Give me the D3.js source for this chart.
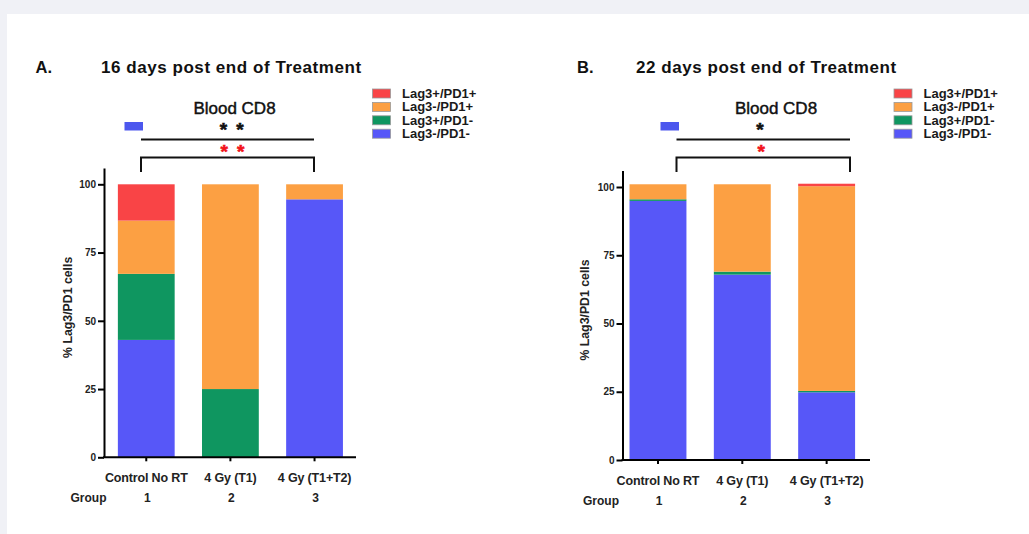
<!DOCTYPE html>
<html><head><meta charset="utf-8">
<script src="https://cdn.jsdelivr.net/npm/d3@7"></script>
<style>
html,body{margin:0;padding:0;background:#f0f1f6;}
svg{display:block;font-family:"Liberation Sans",Arial,sans-serif;}
</style></head>
<body>
<svg id="c" width="1029" height="534"></svg>
<script>
// ---- data ----
const categories = ["Control No RT", "4 Gy (T1)", "4 Gy (T1+T2)"];
const groupNumbers = ["1", "2", "3"];
const seriesNames = ["Lag3-/PD1-", "Lag3+/PD1-", "Lag3-/PD1+", "Lag3+/PD1+"]; // bottom -> top
const legendOrder = ["Lag3+/PD1+", "Lag3-/PD1+", "Lag3+/PD1-", "Lag3-/PD1-"];
const yTicks = [0, 25, 50, 75, 100];

// Panel A: 16 days
const lagNeg_PD1neg_A = [43.0, 0, 94.5];
const lagPos_PD1neg_A = [24.2, 25.0, 0];
const lagNeg_PD1pos_A = [19.5, 75.0, 5.5];
const lagPos_PD1pos_A = [13.3, 0, 0];
// Panel B: 22 days
const lagNeg_PD1neg_B = [94.9, 67.9, 24.8];
const lagPos_PD1neg_B = [0.6, 1.1, 0.5];
const lagNeg_PD1pos_B = [5.5, 32.0, 75.0];
const lagPos_PD1pos_B = [0, 0, 0.9];

const titleA = "16 days post end of Treatment";
const titleB = "22 days post end of Treatment";
const subTitle = "Blood CD8";
const yLabel = "%  Lag3/PD1 cells";
const starsA = 2;   // ** for panel A
const starsB = 1;   // *  for panel B

const colors = {
  "Lag3+/PD1+": "#f94446",
  "Lag3-/PD1+": "#fca043",
  "Lag3+/PD1-": "#0f9660",
  "Lag3-/PD1-": "#5757f8"
};

function rows(s0, s1, s2, s3) {
  return categories.map((c, i) => ({
    cat: c,
    [seriesNames[0]]: s0[i], [seriesNames[1]]: s1[i],
    [seriesNames[2]]: s2[i], [seriesNames[3]]: s3[i]
  }));
}

const svg = d3.select("#c");
svg.append("rect").attr("x", 7).attr("y", 14).attr("width", 1022).attr("height", 520).attr("fill", "#ffffff");

function stars(g, n, cx, baseline, size, color) {
  const offs = n === 1 ? [0] : [-8.2, 8.2];
  offs.forEach(o => {
    g.append("text").attr("x", cx + o).attr("y", baseline).attr("text-anchor", "middle")
      .attr("font-size", size).attr("font-weight", "bold").attr("fill", color)
      .attr("stroke", color).attr("stroke-width", 0.6).text("*");
  });
}

function panel(cfg) {
  const g = svg.append("g");
  const data = rows(...cfg.series);
  const x = d3.scaleBand().domain(categories)
    .range([cfg.x0, cfg.x1]).paddingInner(0.325).paddingOuter(cfg.po).align(cfg.align);
  const y = d3.scaleLinear().domain([0, 106]).range([cfg.y0, cfg.y0 - 2.73 * 106]);
  const stack = d3.stack().keys(seriesNames)(data);

  g.selectAll("g.s").data(stack).join("g").attr("fill", d => colors[d.key])
    .selectAll("rect").data(d => d).join("rect")
    .attr("x", d => x(d.data.cat)).attr("width", x.bandwidth())
    .attr("y", d => y(d[1])).attr("height", d => Math.max(0, y(d[0]) - y(d[1])));

  // y axis
  const ya = g.append("g").attr("transform", `translate(${cfg.x0},0)`)
    .call(d3.axisLeft(y).tickValues(yTicks).tickSize(6).tickPadding(2).tickSizeOuter(0));
  ya.select(".domain").attr("stroke-width", 2);
  ya.selectAll(".tick line").attr("stroke-width", 2);
  ya.selectAll("text").attr("font-size", 10).attr("font-weight", "bold").attr("fill", "#222");

  // x axis
  const xa = g.append("g").attr("transform", `translate(0,${cfg.y0})`)
    .call(d3.axisBottom(x).tickSize(4).tickSizeOuter(0).tickPadding(12));
  xa.select(".domain").attr("stroke-width", 2).attr("d", `M${cfg.x0 - 1},0H${cfg.xEnd}`);
  xa.selectAll(".tick line").attr("stroke-width", 2);
  xa.selectAll("text").attr("font-size", 12.5).attr("font-weight", "bold").attr("fill", "#222")
    .attr("letter-spacing", -0.15);

  // group row
  g.append("text").attr("x", cfg.groupX).attr("y", cfg.y0 + 45).attr("font-size", 12)
    .attr("font-weight", "bold").attr("fill", "#222").text("Group");
  g.selectAll("text.gn").data(groupNumbers).join("text").attr("class", "gn")
    .attr("x", (d, i) => x(categories[i]) + x.bandwidth() / 2 + 1).attr("y", cfg.y0 + 45)
    .attr("text-anchor", "middle").attr("font-size", 12).attr("font-weight", "bold").attr("fill", "#222")
    .text(d => d);

  // y label
  g.append("text").attr("transform", `translate(${cfg.yLabX},${cfg.y0 - 150}) rotate(-90)`)
    .attr("text-anchor", "middle").attr("font-size", 12.3).attr("font-weight", "bold").attr("fill", "#222")
    .text(yLabel);

  // headers
  g.append("text").attr("x", cfg.letterX).attr("y", 73).attr("font-size", 16.5).attr("font-weight", "bold")
    .attr("fill", "#111").text(cfg.letter);
  g.append("text").attr("x", cfg.titleX).attr("y", 73).attr("font-size", 17).attr("font-weight", "bold")
    .attr("letter-spacing", 0.55).attr("fill", "#111").text(cfg.title);
  g.append("text").attr("x", cfg.subX).attr("y", 114).attr("text-anchor", "middle").attr("font-size", 17)
    .attr("fill", "#111").attr("stroke", "#111").attr("stroke-width", 0.45).text(subTitle);

  // blue marker
  g.append("rect").attr("x", cfg.markX).attr("y", 122).attr("width", 18.5).attr("height", 8.5)
    .attr("fill", "#4c57ee");

  // significance
  stars(g, cfg.nStars, cfg.starX, 136.2, 19, "#111");
  g.append("line").attr("x1", cfg.bl).attr("x2", cfg.br).attr("y1", 139.5).attr("y2", 139.5)
    .attr("stroke", "#111").attr("stroke-width", 2);
  stars(g, cfg.nStars, cfg.redX, 157.6, 19, "#f2131a");
  g.append("path").attr("d", `M${cfg.bl},172V157.5H${cfg.br}V172`).attr("fill", "none")
    .attr("stroke", "#111").attr("stroke-width", 2);

  // legend
  const lg = g.append("g");
  legendOrder.forEach((k, i) => {
    const yy = 89 + i * 13.4;
    lg.append("rect").attr("x", cfg.legX).attr("y", yy).attr("width", 18).attr("height", 9)
      .attr("fill", colors[k]).attr("stroke", "#9a9a9a").attr("stroke-width", 0.8);
    lg.append("text").attr("x", cfg.legX + 29.5).attr("y", yy + 9).attr("font-size", 13)
      .attr("font-weight", "bold").attr("fill", "#1a1a1a").text(k);
  });
}

panel({
  series: [lagNeg_PD1neg_A, lagPos_PD1neg_A, lagNeg_PD1pos_A, lagPos_PD1pos_A],
  x0: 104, x1: 356, xEnd: 356, po: 0.16, align: 0.515, y0: 457.3,
  groupX: 70.5, yLabX: 72, letter: "A.", letterX: 35.5, title: titleA, titleX: 101,
  subX: 234.5, markX: 124.5, nStars: starsA, starX: 231.7, redX: 232.5, bl: 141, br: 314, legX: 372.5
});
panel({
  series: [lagNeg_PD1neg_B, lagPos_PD1neg_B, lagNeg_PD1pos_B, lagPos_PD1pos_B],
  x0: 622.5, x1: 870, xEnd: 870, po: 0.13, align: 0.32, y0: 460,
  groupX: 583, yLabX: 589, letter: "B.", letterX: 577, title: titleB, titleX: 636,
  subX: 776, markX: 660.5, nStars: starsB, starX: 760, redX: 761.3, bl: 676.5, br: 850, legX: 894
});
</script>
</body></html>
